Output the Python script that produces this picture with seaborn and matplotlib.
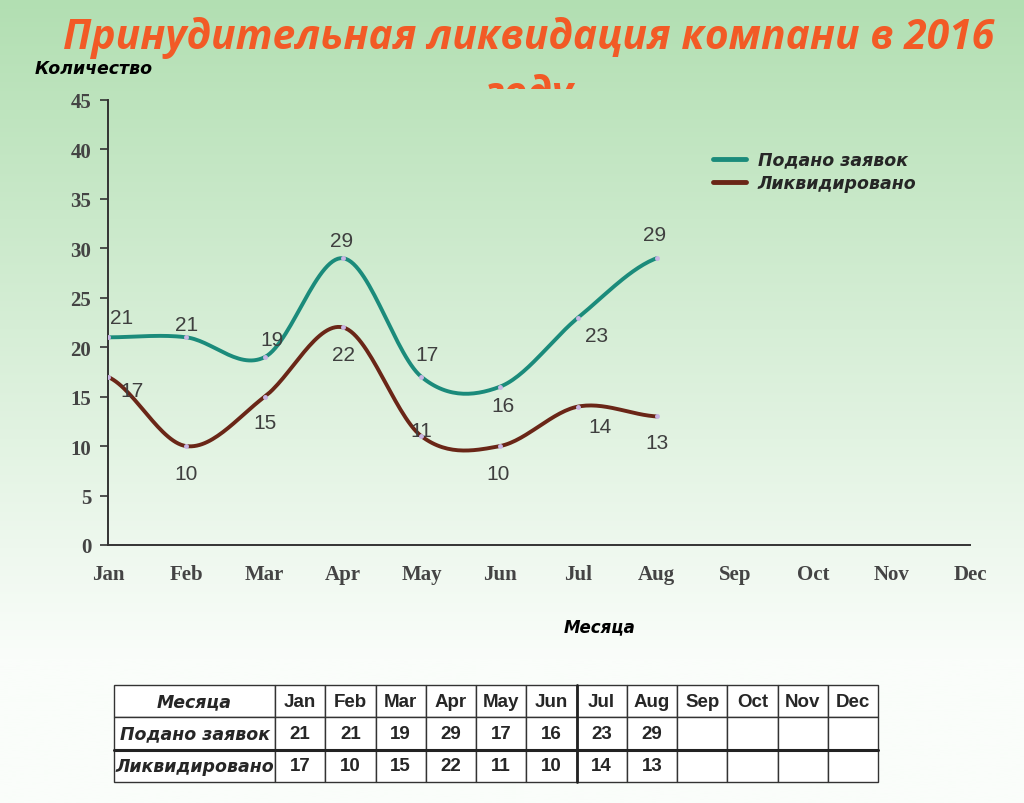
import numpy as np
import pandas as pd
import matplotlib
matplotlib.use("Agg")
import matplotlib.pyplot as plt
from matplotlib.transforms import Bbox
from matplotlib.lines import Line2D
from matplotlib.font_manager import FontProperties
import seaborn as sns

# данные
months = ["Jan", "Feb", "Mar", "Apr", "May", "Jun", "Jul", "Aug", "Sep", "Oct", "Nov", "Dec"]
podano = [21, 21, 19, 29, 17, 16, 23, 29]
likvid = [17, 10, 15, 22, 11, 10, 14, 13]
series_names = ["Подано заявок", "Ликвидировано"]
row_header = "Месяца"
title_1 = "Принудительная ликвидация компани в 2016"
title_2 = "году"

# смещения подписей (пиксели)
off_podano = [(14, 20), (0, 13), (7, 18), (-2, 18), (6, 22), (3, -19), (18, -18), (-2, 24)]
off_likvid = [(24, -14), (0, -27), (0, -26), (0, -27), (0, 6), (-2, -27), (22, -20), (0, -26)]

colors = {"Подано заявок": "#1b8b7b", "Ликвидировано": "#6a2617"}


def smooth(y, n=30):
    # сглаживание Catmull-Rom
    y = np.asarray(y, dtype=float)
    x = np.arange(len(y), dtype=float)
    p = np.concatenate([[y[0]], y, [y[-1]]])
    xs, ys = [], []
    for i in range(len(y) - 1):
        p0, p1, p2, p3 = p[i], p[i + 1], p[i + 2], p[i + 3]
        t = np.linspace(0, 1, n, endpoint=False)
        yy = 0.5 * ((2 * p1) + (-p0 + p2) * t + (2 * p0 - 5 * p1 + 4 * p2 - p3) * t ** 2
                    + (-p0 + 3 * p1 - 3 * p2 + p3) * t ** 3)
        xs.append(x[i] + t)
        ys.append(yy)
    xs.append([x[-1]])
    ys.append([y[-1]])
    return np.concatenate(xs), np.concatenate(ys)


frames = []
for name, vals in zip(series_names, [podano, likvid]):
    sx, sy = smooth(vals)
    frames.append(pd.DataFrame({"x": sx, "y": sy, "series": name}))
df = pd.concat(frames, ignore_index=True)

sns.set_theme(style="white")
plt.rcParams["font.family"] = ["DejaVu Sans"]

fig = plt.figure(figsize=(10.24, 8.04), dpi=100)

# фон-градиент
bg = fig.add_axes([0, 0, 1, 1], zorder=-10)
grad = np.linspace(0, 1, 400)
top = np.array([178, 223, 178]) / 255
white = np.array([250, 253, 250]) / 255
k = np.clip(grad / 0.82, 0, 1)[:, None]
img = top * (1 - k) + white * k
bg.imshow(img[:, None, :], aspect="auto", extent=[0, 1, 0, 1])
bg.axis("off")

ax = fig.add_axes([108 / 1024, 1 - 546 / 804, 862 / 1024, 445 / 804])
ax.patch.set_alpha(0)

sns.lineplot(data=df, x="x", y="y", hue="series", palette=colors, sort=False,
             estimator=None, linewidth=2.8, legend=False, ax=ax)

for name, vals in zip(series_names, [podano, likvid]):
    ax.plot(range(len(vals)), vals, ls="none", marker="o", ms=2.5, color="#c9b6e4", zorder=5)

for vals, offs in [(podano, off_podano), (likvid, off_likvid)]:
    for i, (v, (dx, dy)) in enumerate(zip(vals, offs)):
        ax.annotate(str(v), (i, v), xytext=(dx * 0.72, dy * 0.72), textcoords="offset points",
                    ha="center", va="center", fontsize=15, color="#3f3f3f",
                    family="Liberation Sans")

ax.set_xlim(0, 11)
ax.set_ylim(0, 45)
ax.set_xticks(range(12))
ax.set_xticklabels(months)
ax.set_yticks(range(0, 46, 5))
for lab in ax.get_xticklabels() + ax.get_yticklabels():
    lab.set_family("Liberation Serif")
    lab.set_fontweight("bold")
    lab.set_fontsize(15)
    lab.set_color("#444444")
ax.tick_params(axis="x", length=0, pad=14)
ax.tick_params(axis="y", length=6, width=1.2, color="#333333", left=True, pad=6)
for s in ["top", "right"]:
    ax.spines[s].set_visible(False)
for s in ["left", "bottom"]:
    ax.spines[s].set_color("#333333")
    ax.spines[s].set_linewidth(1.4)
ax.set_xlabel("")
ax.set_ylabel("")

handles = [Line2D([0], [0], color=colors[n], lw=3.5) for n in series_names]
leg = fig.legend(handles, series_names, loc="upper left", bbox_to_anchor=(697 / 1024, 1 - 136 / 804),
                 frameon=False, handlelength=1.9, handletextpad=0.7, labelspacing=0.3,
                 prop={"family": "DejaVu Sans", "weight": "bold", "style": "italic", "size": 12.5})

# заголовок
fig.text(529 / 1024, 1 - 49 / 804, title_1, ha="center", va="baseline", fontsize=29.3,
         color="#f25a26", family="Open Sans", fontweight="bold", fontstyle="italic")
t2 = fig.text(529 / 1024, 1 - 106 / 804, title_2, ha="center", va="baseline", fontsize=29.3,
              color="#f25a26", family="Open Sans", fontweight="bold", fontstyle="italic")
t2.set_clip_box(Bbox([[0, 804 - 90], [1024, 804]]))
t2.set_clip_on(True)

fig.text(35 / 1024, 1 - 69 / 804, "Количество", ha="left", va="center", fontsize=12.5,
         family="DejaVu Sans", fontweight="bold", fontstyle="italic", color="black")
fig.text(600 / 1024, 1 - 627 / 804, "Месяца", ha="center", va="center", fontsize=12,
         family="DejaVu Sans", fontweight="bold", fontstyle="italic", color="black")

# таблица
tax = fig.add_axes([114 / 1024, 1 - 783 / 804, 764 / 1024, 97 / 804])
tax.set_xlim(0, 1)
tax.set_ylim(0, 1)
tax.axis("off")
cells = [[row_header] + months,
         [series_names[0]] + [str(v) for v in podano] + [""] * (12 - len(podano)),
         [series_names[1]] + [str(v) for v in likvid] + [""] * (12 - len(likvid))]
first_w = 161 / 764
col_w = [first_w] + [(1 - first_w) / 12] * 12
tbl = tax.table(cellText=cells, colWidths=col_w, cellLoc="center", bbox=[0, 0, 1, 1])
tbl.auto_set_font_size(False)
for (r, c), cell in tbl.get_celld().items():
    cell.set_edgecolor("#333333")
    cell.set_linewidth(1.0)
    cell.set_facecolor("white")
    txt = cell.get_text()
    if c == 0:
        txt.set_fontproperties(FontProperties(family="DejaVu Sans", weight="bold",
                                              style="italic", size=12.5))
    else:
        txt.set_fontproperties(FontProperties(family="Liberation Sans", weight="bold", size=13.5))
tax.plot([0, 1], [1 / 3, 1 / 3], color="#222222", lw=2.2, zorder=10, clip_on=False)
jul_x = first_w + 6 * (1 - first_w) / 12
tax.plot([jul_x, jul_x], [0, 1], color="#222222", lw=2.0, zorder=10, clip_on=False)

fig.savefig("out.png", dpi=100)
